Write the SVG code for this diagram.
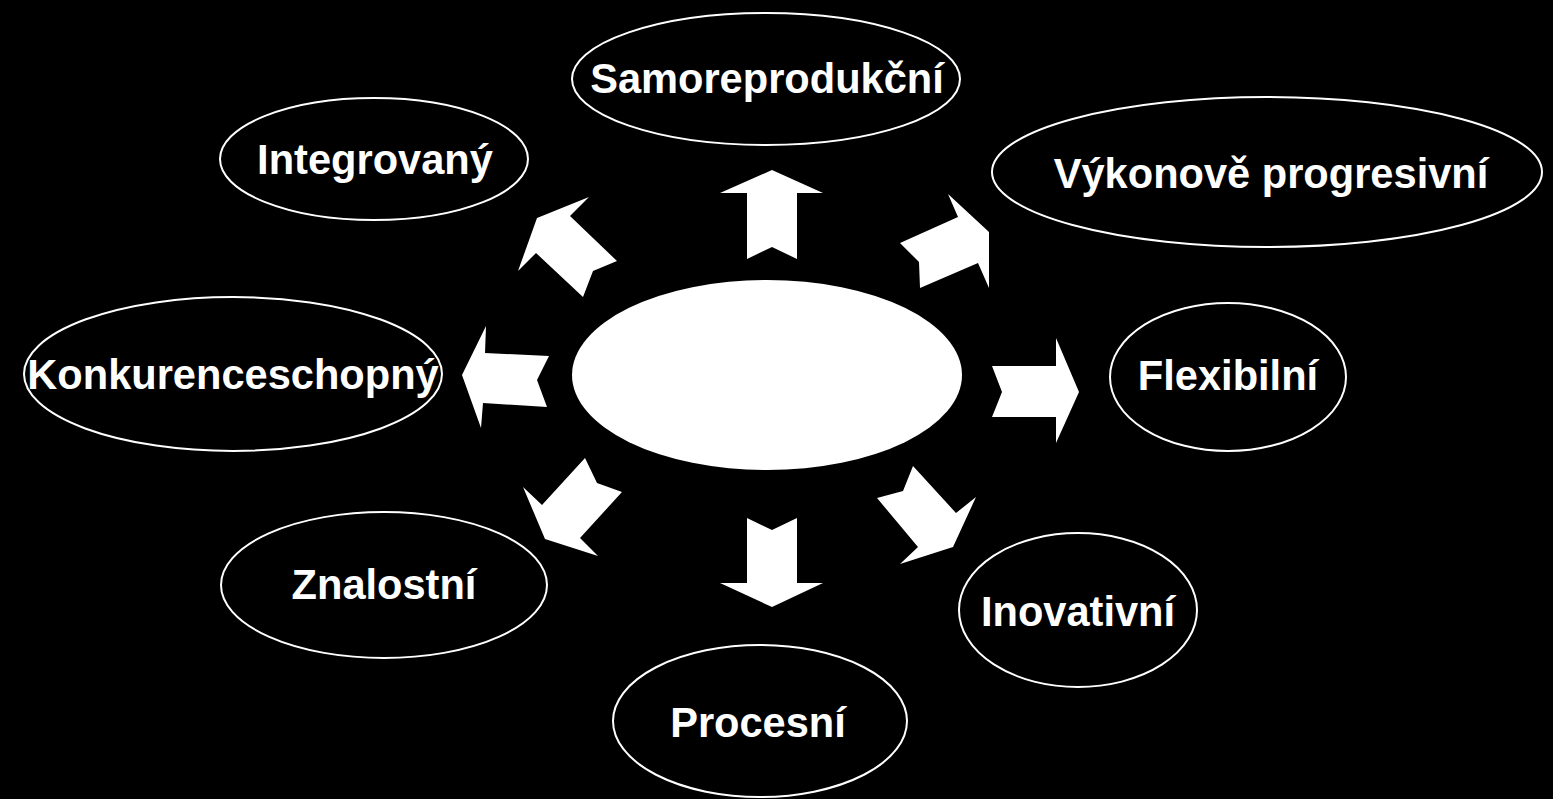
<svg xmlns="http://www.w3.org/2000/svg" width="1553" height="799" viewBox="0 0 1553 799">
<style>
.node ellipse{fill:#000;stroke:#fff;stroke-width:2}
.node text{fill:#fff;font-family:"Liberation Sans",Arial,sans-serif;font-weight:bold;font-size:41.6px;text-anchor:middle}
.arrow{fill:#fff;stroke:none}
</style>
<rect x="0" y="0" width="1553" height="799" fill="#000"/>
<g id="center"><ellipse cx="767" cy="375" rx="195" ry="95" fill="#fff" stroke="none"/></g>
<g id="connectors">
<polygon class="arrow" points="537,218 589,197 570,216 617,261 593,271 583,297 536,253 518,271"/>
<polygon class="arrow" points="772,170 823,193 797,193 797,259 772,247 747,259 747,193 720,193"/>
<polygon class="arrow" points="900,243 958,217 948,194 989,232 989,288 978,263 920,288 919,262"/>
<polygon class="arrow" points="462,375 486,326 485,353 549,356 537,380 547,407 483,403 481,428"/>
<polygon class="arrow" points="992,366 1056,366 1056,338 1079,392 1056,443 1056,417 992,417 1002,392"/>
<polygon class="arrow" points="585,458 597,483 622,492 580,538 598,556 545,539 523,487 542,505"/>
<polygon class="arrow" points="747,518 772,530 797,518 797,583 823,583 772,607 720,583 747,583"/>
<polygon class="arrow" points="913,466 956,513 976,497 953,547 900,564 918,547 877,498 903,491"/>
</g>
<g id="samoreprodukcni" class="node"><ellipse cx="766" cy="79" rx="194" ry="66"/><text x="767" y="93">Samoreprodukční</text></g>
<g id="integrovany" class="node"><ellipse cx="374" cy="159" rx="154" ry="61"/><text x="375" y="174">Integrovaný</text></g>
<g id="vykonove" class="node"><ellipse cx="1267" cy="172" rx="275" ry="75"/><text x="1271" y="188">Výkonově progresivní</text></g>
<g id="konkurenceschopny" class="node"><ellipse cx="233" cy="374" rx="209" ry="77"/><text x="233" y="389">Konkurenceschopný</text></g>
<g id="flexibilni" class="node"><ellipse cx="1228" cy="377" rx="118" ry="74"/><text x="1228" y="390">Flexibilní</text></g>
<g id="znalostni" class="node"><ellipse cx="384" cy="585" rx="163" ry="73"/><text x="384" y="599">Znalostní</text></g>
<g id="inovativni" class="node"><ellipse cx="1078" cy="610" rx="119" ry="77"/><text x="1078" y="626">Inovativní</text></g>
<g id="procesni" class="node"><ellipse cx="760" cy="721" rx="147" ry="76"/><text x="758" y="737">Procesní</text></g>
</svg>
